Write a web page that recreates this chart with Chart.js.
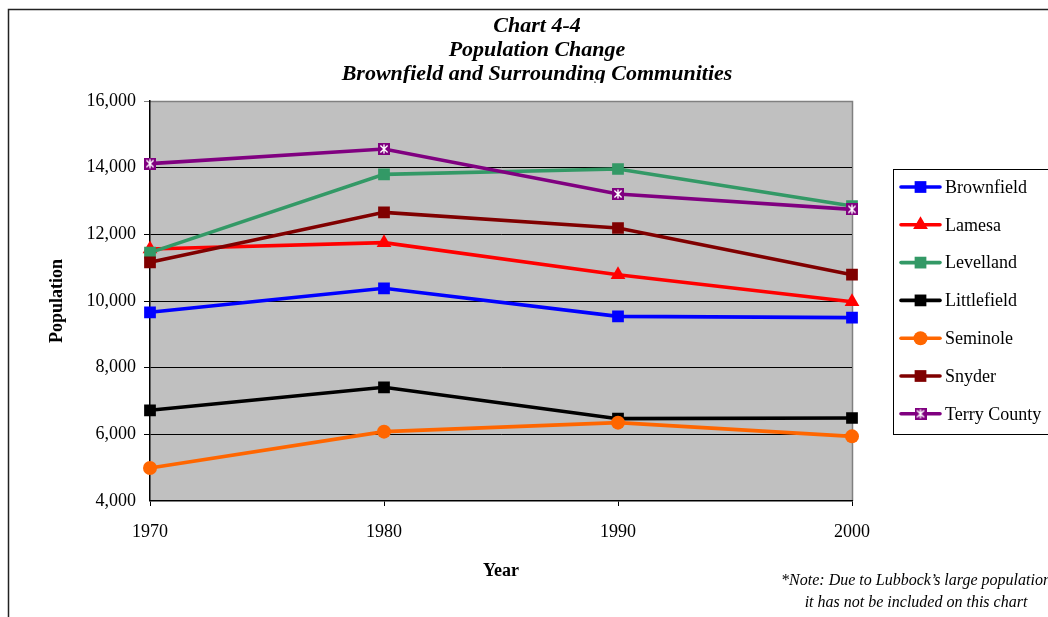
<!DOCTYPE html>
<html>
<head>
<meta charset="utf-8">
<script src="https://cdn.jsdelivr.net/npm/chart.js@4.4.1/dist/chart.umd.min.js"></script>
<style>
  html, body { margin: 0; padding: 0; background: #ffffff; }
  #wrap { width: 1048px; height: 617px; position: relative; }
</style>
</head>
<body>
<div id="wrap"><canvas id="chart" width="1048" height="617"></canvas></div>
<script>
// Census years and population per community
const years = ['1970', '1980', '1990', '2000'];
const brownfield  = [9660, 10380, 9540, 9500];
const lamesa      = [11560, 11750, 10790, 9980];
const levelland   = [11450, 13800, 13960, 12850];
const littlefield = [6720, 7410, 6470, 6490];
const seminole    = [4990, 6080, 6350, 5940];
const snyder      = [11160, 12660, 12190, 10790];
const terryCounty = [14120, 14560, 13210, 12750];

const seriesNames = ['Brownfield', 'Lamesa', 'Levelland', 'Littlefield', 'Seminole', 'Snyder', 'Terry County'];
const seriesData = [brownfield, lamesa, levelland, littlefield, seminole, snyder, terryCounty];
const seriesColors = ['#0000FF', '#FF0000', '#339966', '#000000', '#FF6600', '#800000', '#800080'];

const titleLines = ['Chart 4-4', 'Population Change', 'Brownfield and Surrounding Communities'];
const noteLines = ['*Note: Due to Lubbock\u2019s large population', 'it has not be included on this chart'];

const SERIF = '"Liberation Serif", "Times New Roman", serif';

// Purple square with a white asterisk for Terry County
function starSquare(size) {
  const c = document.createElement('canvas');
  c.width = size; c.height = size;
  const g = c.getContext('2d');
  g.fillStyle = '#800080';
  g.fillRect(0, 0, size, size);
  g.strokeStyle = '#ffffff';
  g.lineWidth = 1.4;
  const m = size / 2, d = size * 0.3;
  g.beginPath();
  g.moveTo(m - d, m - d); g.lineTo(m + d, m + d);
  g.moveTo(m + d, m - d); g.lineTo(m - d, m + d);
  g.moveTo(m, m - d - 1); g.lineTo(m, m + d + 1);
  g.stroke();
  return c;
}
const terryMarker = starSquare(12);

const pointStyles = ['rect', 'triangle', 'rect', 'rect', 'circle', 'rect', terryMarker];
const pointRadii = [8.3, 8.5, 8.3, 8.3, 7, 8.3, 6];

const datasets = seriesNames.map((name, i) => ({
  label: name,
  data: seriesData[i],
  borderColor: seriesColors[i],
  backgroundColor: seriesColors[i],
  borderWidth: 3.6,
  pointStyle: pointStyles[i],
  pointRadius: pointRadii[i],
  pointHoverRadius: pointRadii[i],
  pointBorderWidth: 0,
  pointBackgroundColor: seriesColors[i],
  tension: 0,
  // later series are painted on top of earlier ones
  order: seriesNames.length - 1 - i
}));

// Frame, plot background, titles, legend and notes
const decor = {
  id: 'decor',
  beforeDraw(chart) {
    const ctx = chart.ctx;
    const a = chart.chartArea;
    ctx.save();
    ctx.setLineDash([]);
    ctx.fillStyle = '#ffffff';
    ctx.fillRect(0, 0, chart.width, chart.height);
    // outer frame
    ctx.strokeStyle = '#222222';
    ctx.lineWidth = 1.5;
    ctx.beginPath();
    ctx.moveTo(8.5, chart.height + 2);
    ctx.lineTo(8.5, 9.5);
    ctx.lineTo(chart.width + 2, 9.5);
    ctx.stroke();
    // plot area
    ctx.fillStyle = '#C0C0C0';
    ctx.fillRect(a.left, a.top, a.right - a.left, a.bottom - a.top);
    ctx.strokeStyle = '#808080';
    ctx.lineWidth = 1.5;
    ctx.beginPath();
    ctx.moveTo(a.left, a.top + 0.5);
    ctx.lineTo(a.right + 0.5, a.top + 0.5);
    ctx.lineTo(a.right + 0.5, a.bottom);
    ctx.stroke();
    ctx.restore();
  },
  afterDraw(chart) {
    const ctx = chart.ctx;
    ctx.save();
    ctx.setLineDash([]);
    // title (bottom line trimmed by the plot header band)
    ctx.save();
    ctx.beginPath();
    ctx.rect(0, 12, chart.width, 71);
    ctx.clip();
    ctx.fillStyle = '#000000';
    ctx.font = 'italic bold 22px ' + SERIF;
    ctx.textAlign = 'center';
    ctx.textBaseline = 'middle';
    titleLines.forEach((t, i) => ctx.fillText(t, 537, 26 + i * 24));
    ctx.restore();

    // axis titles
    ctx.fillStyle = '#000000';
    ctx.font = 'bold 18px ' + SERIF;
    ctx.textAlign = 'center';
    ctx.textBaseline = 'middle';
    ctx.fillText('Year', 501, 571);
    ctx.save();
    ctx.translate(57, 301);
    ctx.rotate(-Math.PI / 2);
    ctx.fillText('Population', 0, 0);
    ctx.restore();

    // legend
    ctx.fillStyle = '#ffffff';
    ctx.fillRect(893, 169, 170, 265);
    ctx.strokeStyle = '#000000';
    ctx.lineWidth = 1;
    ctx.strokeRect(893.5, 169.5, 170, 265);
    chart.data.datasets.forEach((ds, i) => {
      const y = 187 + i * 37.8;
      ctx.strokeStyle = ds.borderColor;
      ctx.lineWidth = 3.6;
      ctx.lineCap = 'round';
      ctx.beginPath();
      ctx.moveTo(901, y);
      ctx.lineTo(940, y);
      ctx.stroke();
      ctx.fillStyle = ds.borderColor;
      ctx.strokeStyle = ds.borderColor;
      Chart.helpers.drawPoint(ctx, {
        pointStyle: ds.pointStyle,
        radius: ds.pointRadius,
        borderWidth: 0,
        rotation: 0
      }, 920.5, y);
      ctx.fillStyle = '#000000';
      ctx.font = '18px ' + SERIF;
      ctx.textAlign = 'left';
      ctx.textBaseline = 'middle';
      ctx.fillText(ds.label, 945, y + 1);
    });

    // footnote
    ctx.fillStyle = '#000000';
    ctx.font = 'italic 16px ' + SERIF;
    ctx.textAlign = 'center';
    ctx.textBaseline = 'middle';
    noteLines.forEach((t, i) => ctx.fillText(t, 916, 581 + i * 22));
    ctx.restore();
  }
};

const chart = new Chart(document.getElementById('chart'), {
  type: 'line',
  data: { labels: years, datasets: datasets },
  options: {
    responsive: false,
    animation: false,
    events: [],
    layout: { padding: { top: 101, right: 196, bottom: 0, left: 0 } },
    plugins: {
      legend: { display: false },
      title: { display: false },
      tooltip: { enabled: false }
    },
    scales: {
      x: {
        type: 'category',
        offset: false,
        border: { display: true, color: '#000000', width: 1.5 },
        grid: {
          drawOnChartArea: false,
          drawTicks: true,
          tickLength: 5,
          color: '#000000',
          lineWidth: 1
        },
        ticks: {
          color: '#000000',
          font: { family: SERIF, size: 18 },
          padding: 15,
          maxRotation: 0
        },
        afterFit(s) { s.height = 116; }
      },
      y: {
        min: 4000,
        max: 16000,
        border: { display: true, color: '#000000', width: 1.5 },
        grid: {
          color: (c) => (c.tick && c.tick.value === 16000 ? '#808080' : '#000000'),
          lineWidth: (c) => (c.tick && c.tick.value === 4000 ? 0 : 1),
          tickLength: 6,
          drawTicks: true
        },
        ticks: {
          stepSize: 2000,
          color: '#000000',
          font: { family: SERIF, size: 18 },
          padding: 8,
          callback: (v) => v.toLocaleString('en-US')
        },
        afterFit(s) { s.width = 150; }
      }
    }
  },
  plugins: [decor]
});
</script>
</body>
</html>
